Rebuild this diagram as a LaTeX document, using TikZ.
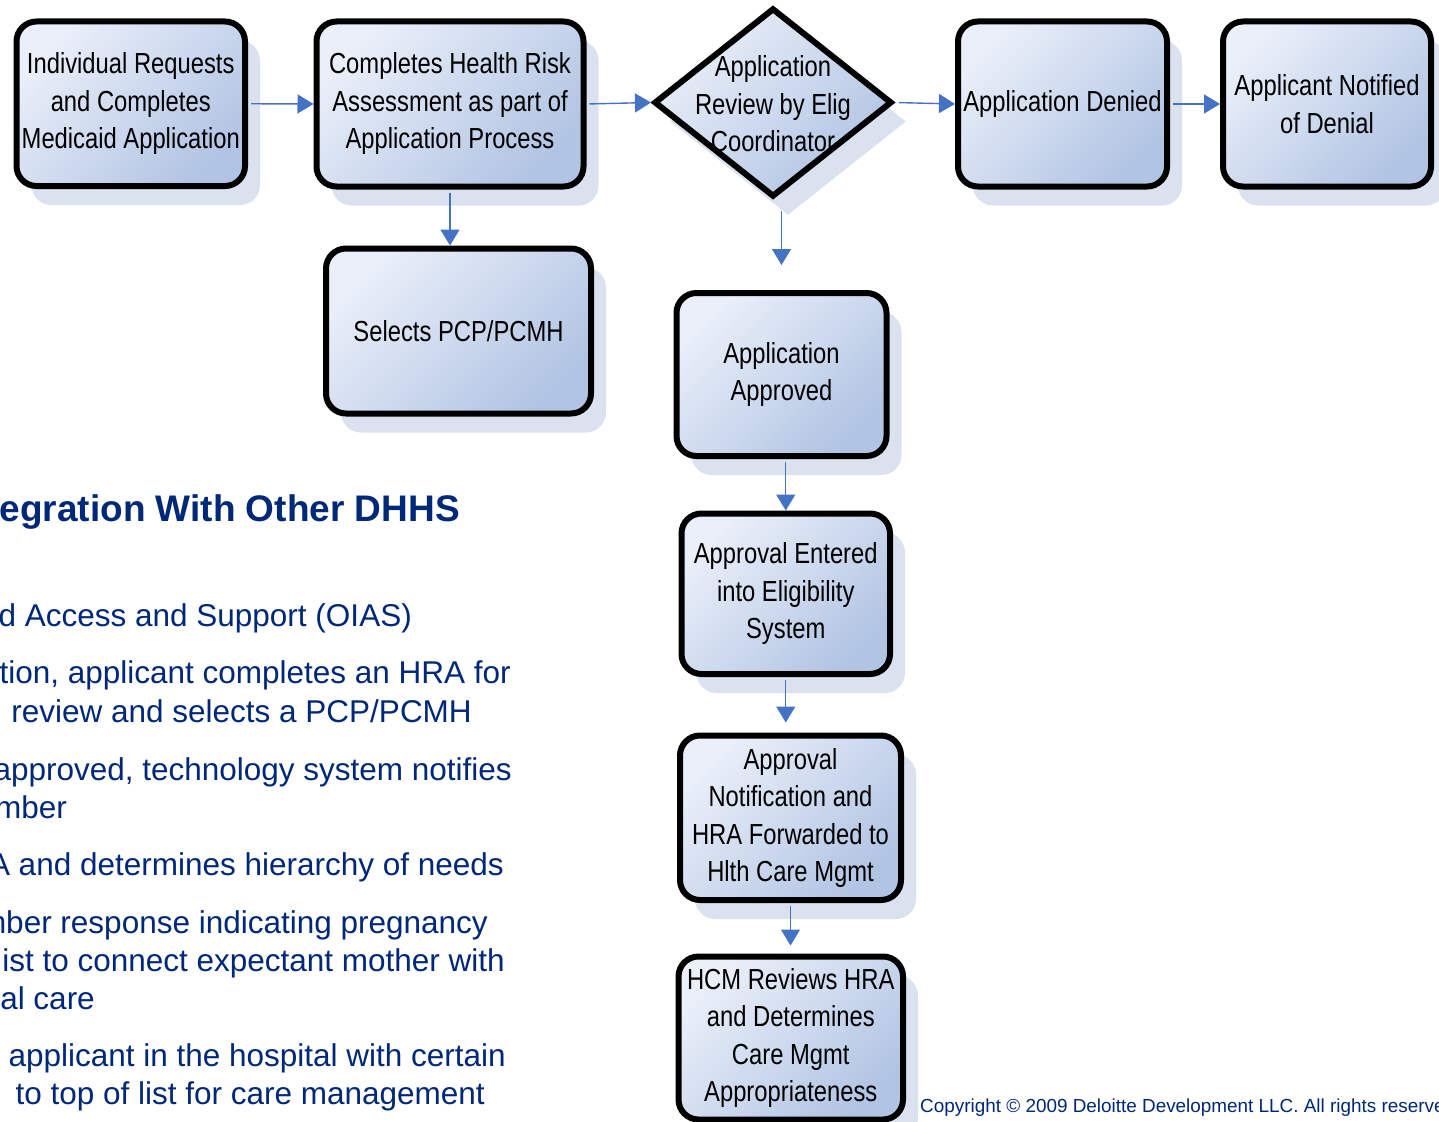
\documentclass[tikz,border=0pt]{standalone}
\usepackage{fontspec}
\setmainfont{Liberation Sans}
\newfontfamily\narrowfont[FakeStretch=0.82]{Liberation Sans}
\usetikzlibrary{arrows.meta,shapes.geometric,shadows,calc}

\definecolor{navy}{RGB}{0,40,120}
\definecolor{linkblue}{RGB}{68,114,196}
\definecolor{boxlight}{RGB}{234,239,249}
\definecolor{boxdark}{RGB}{177,196,227}
\definecolor{shadowblue}{RGB}{218,226,240}

\newcommand\flowfont{\narrowfont\fontsize{29}{37.5}\selectfont}

\tikzset{
  boxfill/.style={draw=black, line width=6pt,
    top color=boxlight, bottom color=boxdark, shading angle=45,
    drop shadow={shadow xshift=15pt, shadow yshift=-19pt, fill=shadowblue, opacity=1}},
  stepbox/.style={boxfill, rectangle, rounded corners=20pt,
    inner sep=0pt, align=center, font=\flowfont},
  decision/.style={boxfill, diamond, inner sep=0pt},
  flowlabel/.style={inner sep=0pt, align=center, font=\flowfont},
  conn/.style={draw=linkblue, line width=1.4pt, -{Triangle[length=16pt,width=19pt]}},
  sidetext/.style={anchor=base east, text=navy, inner sep=0pt,
    font=\fontsize{31.5}{38}\selectfont},
}

\begin{document}
\begin{tikzpicture}[x=1pt, y=-1pt]
\useasboundingbox (0,0) rectangle (1439,1121);
\fill[white] (0,0) rectangle (1439,1121);
\clip (0,0) rectangle (1439,1121);

% top row
\node[stepbox, minimum width=228.5pt, minimum height=164.5pt] (b1) at (130.75,103.75)
  {Individual Requests\\and Completes\\Medicaid Application};
\node[stepbox, minimum width=267pt, minimum height=165pt] (b2) at (450,104)
  {Completes Health Risk\\Assessment as part of\\Application Process};
\node[decision, minimum width=238pt, minimum height=189pt] (dia) at (773,102.5) {};
\node[flowlabel] (dialabel) at ($(dia.center)+(0,1.5)$) {Application\\Review by Elig\\Coordinator};
\node[stepbox, minimum width=209pt, minimum height=165pt] (den) at (1062.5,104)
  {Application Denied};
\node[stepbox, minimum width=208pt, minimum height=165pt] (notif) at (1327,104)
  {Applicant Notified\\of Denial};

% PCP selection
\node[stepbox, minimum width=265pt, minimum height=165pt] (sel) at (458.5,331)
  {Selects PCP/PCMH};

% approval column
\node[stepbox, minimum width=210pt, minimum height=163pt] (app) at (781.5,374.5)
  {Application\\Approved};
\node[stepbox, minimum width=208.5pt, minimum height=160.5pt] (ent) at (785.75,593.75)
  {Approval Entered\\into Eligibility\\System};
\node[stepbox, minimum width=221pt, minimum height=164.5pt] (ntf) at (790.5,817.75)
  {Approval\\Notification and\\HRA Forwarded to\\Hlth Care Mgmt};
\node[stepbox, minimum width=224.5pt, minimum height=163pt] (hcm) at (790.75,1038)
  {HCM Reviews HRA\\and Determines\\Care Mgmt\\Appropriateness};

% connectors
\draw[conn, shorten <=3pt] (b1.east) -- (b2.west);
\draw[conn, shorten <=3pt] (b2.east) -- (dia.west);
\draw[conn, shorten <=4pt] (dia.east) -- (den.west);
\draw[conn, shorten <=3pt] (den.east) -- (notif.west);
\draw[conn, shorten <=3pt] (b2.south) -- (b2.south |- sel.north);
\coordinate (revstart) at ($(dia.south -| app.north)+(0,11)$);
\coordinate (revend) at ($(app.north)+(0,-25)$);
\draw[conn] (revstart) -- (revend);
\draw[conn, shorten <=3pt] (app.south -| ent.north) -- (ent.north);
\coordinate (entend) at ($(ent.south |- ntf.north)+(0,-10)$);
\draw[conn, shorten <=3pt] (ent.south) -- (entend);
\coordinate (ntfend) at ($(ntf.south |- hcm.north)+(0,-8)$);
\draw[conn, shorten <=3pt] (ntf.south) -- (ntfend);

% side text
\node[sidetext, font=\bfseries\fontsize{37}{40}\selectfont] (title) at (460,521)
  {egration With Other DHHS};
\node[sidetext] (s1) at (412,626) {d Access and Support (OIAS)};
\node[sidetext] (s2) at (511,683) {tion, applicant completes an HRA for};
\node[sidetext] (s3) at (472,722) {review and selects a PCP/PCMH};
\node[sidetext] (s4) at (512,780) {approved, technology system notifies};
\node[sidetext] (s5) at (67,818) {mber};
\node[sidetext] (s6) at (504,875) {A and determines hierarchy of needs};
\node[sidetext] (s7) at (488,933) {mber response indicating pregnancy};
\node[sidetext] (s8) at (505,971) {ist to connect expectant mother with};
\node[sidetext] (s9) at (95,1009) {al care};
\node[sidetext] (s10) at (506,1066) {applicant in the hospital with certain};
\node[sidetext] (s11) at (485,1104) {to top of list for care management};

% footer
\node[anchor=base west, text=navy, inner sep=0pt, font=\fontsize{18.9}{22}\selectfont]
  (copy) at (920,1112) {Copyright © 2009 Deloitte Development LLC. All rights reserved.};
\end{tikzpicture}
\end{document}
